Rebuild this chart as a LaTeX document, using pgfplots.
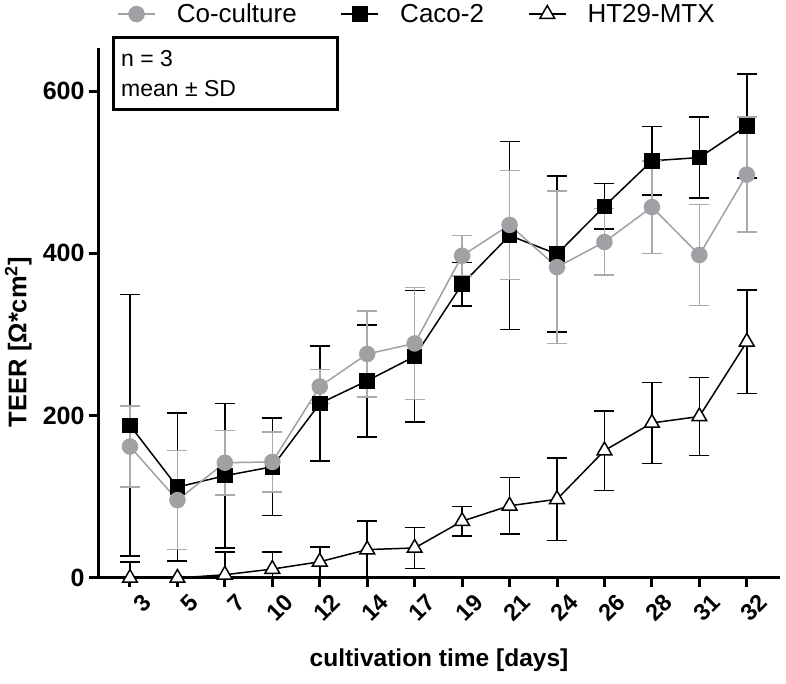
\documentclass[border=0pt]{standalone}
\usepackage{pgfplots}
\pgfplotsset{compat=1.18}
\usepackage{pgfplotstable}
\usepackage{fontspec}
\setmainfont{Liberation Sans}
\definecolor{cogray}{RGB}{160,160,165}
\definecolor{cograyerr}{RGB}{170,170,172}
\pgfplotstableread{
idx co coe ca cae ht htp htm
0 162 50 188 161 0 20 0
1 96 61 112 91 0 0 0
2 142 40 126 89 4 28 4
3 143 37 137 60 11 21 11
4 236 21 215 71 20 18 18
5 276 53 243 69 35 35 35
6 289 69 273 81 37 25 25
7 397 25 362 27 70 18 18
8 435 67 422 116 89 35 35
9 383 94 399 96 97 51 51
10 414 41 458 28 157 49 49
11 457 57 514 42 191 50 50
12 398 62 518 50 199 48 48
13 497 71 557 64 291 64 64
}\data
\begin{document}
\begin{tikzpicture}[x=1pt,y=1pt]
\useasboundingbox (0,0) rectangle (786,684);
\begin{axis}[
  at={(98pt,106pt)}, anchor=south west,
  scale only axis, width=682pt, height=530pt,
  xmin=-0.674, xmax=13.70, ymin=0, ymax=653,
  axis x line*=bottom, axis y line*=left,
  axis line style={line width=3pt},
  tick align=outside, major tick length=9pt,
  tick style={line width=3pt, black},
  xtick={0,...,13},
  xticklabels={3,5,7,10,12,14,17,19,21,24,26,28,31,32},
  ytick={0,200,400,600},
  /pgf/number format/assume math mode=true,
  yticklabel style={font=\bfseries\fontsize{25}{25}\selectfont, xshift=-1pt},
  xticklabel style={font=\bfseries\fontsize{23.5}{23.5}\selectfont, rotate=45, anchor=east, xshift=7pt, yshift=-20pt},
  xlabel={cultivation time [days]},
  xlabel style={font=\bfseries\fontsize{24.5}{24.5}\selectfont, at={(axis description cs:0.5,-0.155)}, anchor=center},
  ylabel={TEER [Ω*cm\textsuperscript{2}]},
  ylabel style={font=\bfseries\fontsize{25.5}{25.5}\selectfont, at={(axis description cs:-0.117,0.445)}, anchor=center},
  clip=false,
  legend columns=3,
  legend style={draw=none, fill=none, inner sep=0pt, at={(axis description cs:0.028,1.064)}, anchor=west,
    font=\fontsize{26}{26}\selectfont, nodes={inner sep=0pt},
    /tikz/every odd column/.append style={column sep=21pt},
    /tikz/every even column/.append style={column sep=44pt}},
  legend image code/.code={\draw[mark repeat=2,mark phase=2,#1] plot coordinates {(0pt,0pt)(18.5pt,0pt)(37pt,0pt)};},
  error bars/error bar style={line width=1.5pt},
  error bars/error mark options={line width=1.5pt, mark size=10pt, rotate=90},
]
\addlegendimage{cogray, line width=1.5pt, mark=*, mark size=7.5pt, mark options={fill=cogray, draw=cogray, solid}}
\addlegendentry{Co-culture}
\addlegendimage{black, line width=1.5pt, mark=square*, mark size=7pt, mark options={fill=black, solid}}
\addlegendentry{Caco-2}
\addlegendimage{black, line width=1.5pt, mark=triangle*, mark size=8.5pt, mark options={fill=white, line width=1.5pt, solid}}
\addlegendentry{HT29-MTX}
\addplot[forget plot, black, line width=1.5pt, mark=triangle*, mark size=8.5pt, mark options={fill=white, line width=1.5pt, solid},
  error bars/.cd, y dir=both, y explicit]
  table[x=idx, y=ht, y error plus=htp, y error minus=htm]{\data};
\addplot[forget plot, black, line width=1.5pt, mark=square*, mark size=7pt, mark options={fill=black, solid},
  error bars/.cd, y dir=both, y explicit]
  table[x=idx, y=ca, y error=cae]{\data};
\addplot[forget plot, cogray, line width=1.5pt, mark=*, mark size=7.5pt, mark options={fill=cogray, draw=cogray, solid},
  error bars/.cd, y dir=both, y explicit, error bar style={cograyerr, line width=1.5pt}]
  table[x=idx, y=co, y error=coe]{\data};
\end{axis}
\draw[line width=3pt] (113,574) rectangle (337,646);
\node[anchor=base west, inner sep=0pt, font=\fontsize{23}{23}\selectfont] at (121,617) {n = 3};
\node[anchor=base west, inner sep=0pt, font=\fontsize{23}{23}\selectfont] at (121,587) {mean ± SD};
\end{tikzpicture}
\end{document}
